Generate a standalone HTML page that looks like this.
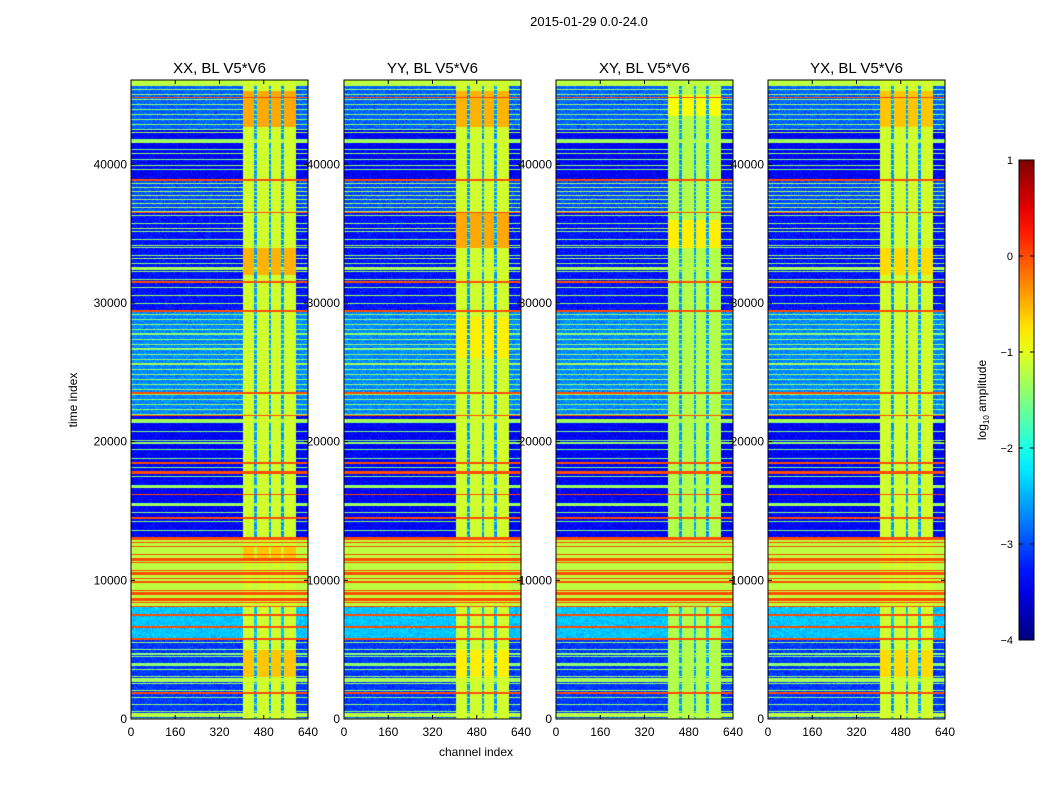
<!DOCTYPE html>
<html><head><meta charset="utf-8">
<style>
html,body{margin:0;padding:0;background:#fff;}
#root{position:relative;width:1050px;height:800px;font-family:"Liberation Sans",sans-serif;color:#000;overflow:hidden;}
canvas{position:absolute;}
svg{position:absolute;left:0;top:0;}
</style></head>
<body>
<div id="root">
<svg id="svg" width="1050" height="800"></svg>
</div>
<script>
// ---- data ----
const panelTitles = ["XX, BL V5*V6","YY, BL V5*V6","XY, BL V5*V6","YX, BL V5*V6"];
const xTicks = [0,160,320,480,640];
const yTicks = [0,10000,20000,30000,40000];
const cbTicks = [-4,-3,-2,-1,0,1];
// background bands [tStart, tEnd, log10 amplitude]
const bgBands = [[0,5690,-3.1],[5690,8070,-2.4],[8070,12900,-1.2],[12900,21900,-3.4],[21900,29330,-2.7],[29330,36540,-3.3],[36540,38850,-3.0],[38850,42450,-3.4],[42450,45620,-2.9],[45620,46080,-1.2]];
// periodic fine-line texture bands [tStart, tEnd, period, value]
const stripeBandStart = [0,12900,21900,29330,36540,38850,42450,8070];
const stripeBandEnd   = [5690,21900,29330,36540,38850,42450,45620,12900];
const stripeBandPeriod= [500,650,360,580,290,720,360,290];
const stripeBandVal   = [-1.4,-1.5,-1.4,-1.4,-1.3,-1.5,-1.4,0.0];
// horizontal lines [tCentre, thickness, value]
const lineTimes = [44830,38850,36540,31500,29400,23500,21900,18450,17800,16200,14500,13050,11460,10520,9870,9080,8580,7500,6630,5770,1870,
  42300,41650,40800,39900,35390,34160,33220,32500,30560,27800,26700,25600,24500,21550,19900,16720,15420,12200,11000,9500,4700,3900,2810,290];
const lineThick = [100,150,100,100,150,100,100,100,200,100,100,220,100,150,100,100,100,200,100,200,100,
  100,200,100,100,100,100,100,200,100,100,100,150,100,200,100,100,100,150,150,150,100,100,280,290];
const lineVals = [0,0,0,0,0,0,0,0,0,0,0,0,0,0,0,0,0,0,0,0,0,
  -1.3,-1.3,-1.4,-1.4,-1.3,-1.3,-1.3,-1.3,-1.3,-1.4,-1.4,-1.3,-1.4,-1.3,-1.4,-1.3,-1.3,-1.2,-1.2,-1.2,-1.4,-1.4,-1.3,-1.2];
// RFI channel region and dropout stripes
const rfiRange = [405,597];
const stripeChans = [[446,456],[498,508],[544,554]];
const rfiBase = [-1.1,-1.1,-1.25,-1.1];
// per-panel brighter RFI blocks [tStart,tEnd,value]
const rfiBlocks = [
  [[42700,45300,-0.45],[32000,34000,-0.5],[3000,5000,-0.6],[11500,12500,-0.6]],
  [[42700,45300,-0.5],[34000,36500,-0.45],[26000,29000,-0.8],[3000,5000,-0.8]],
  [[43500,45000,-0.9],[34000,36000,-0.8]],
  [[42700,45300,-0.6],[32000,34000,-0.7],[3000,5000,-0.7]]
];
const tMax = 46080, chMax = 640, vMin = -4, vMax = 1;

// ---- geometry ----
const panelX = [131,344,556,768], plotW = 177, plotTop = 80, plotBot = 719, plotH = plotBot - plotTop;
const xs = (px, c) => px + c / chMax * plotW;
const ys = t => plotBot - t / tMax * plotH;

function jet(v){
  let x = (v - vMin) / (vMax - vMin); x = Math.max(0, Math.min(1, x));
  const f = (a) => Math.max(0, Math.min(1, a));
  const r = f(Math.min(4*x - 1.5, -4*x + 4.5));
  const g = f(Math.min(4*x - 0.5, -4*x + 3.5));
  const b = f(Math.min(4*x + 0.5, -4*x + 2.5));
  return [r*255|0, g*255|0, b*255|0];
}
const tPerPx = tMax / plotH;
function rowValue(t){
  let v = -3.2;
  for (const b of bgBands) if (t >= b[0] && t < b[1]) v = b[2];
  for (let i=0;i<stripeBandStart.length;i++){
    if (t >= stripeBandStart[i] && t < stripeBandEnd[i]) {
      const ph = (t - stripeBandStart[i]) % stripeBandPeriod[i];
      if (ph < tPerPx) v = stripeBandVal[i];
    }
  }
  for (let i=0;i<lineTimes.length;i++) if (Math.abs(t - lineTimes[i]) <= Math.max(lineThick[i], tPerPx)/2) v = lineVals[i];
  return v;
}
const root = document.getElementById('root');
const svg = document.getElementById('svg');
const NS = "http://www.w3.org/2000/svg";
function mk(tag, attrs, parent){ const e = document.createElementNS(NS, tag); for (const k in attrs) e.setAttribute(k, attrs[k]); (parent||svg).appendChild(e); return e; }

let seed = 7; function rnd(){ seed = (seed*16807) % 2147483647; return seed/2147483647; }

panelX.forEach((px, p) => {
  const cv = document.createElement('canvas');
  cv.width = plotW; cv.height = plotH;
  cv.style.left = px + 'px'; cv.style.top = plotTop + 'px';
  
  
  root.insertBefore(cv, svg);
  const ctx = cv.getContext('2d');
  const img = ctx.createImageData(plotW, plotH);
  for (let y=0;y<plotH;y++){
    const t = (plotBot - (plotTop + y + 0.5)) / plotH * tMax;
    const rv = rowValue(t);
    let blk = null;
    for (const b of rfiBlocks[p]) if (t >= b[0] && t < b[1]) blk = b[2];
    for (let x=0;x<plotW;x++){
      const c = (x + 0.5) / plotW * chMax;
      let v = rv;
      if (c >= rfiRange[0] && c < rfiRange[1]) {
        let stripe = false;
        for (const s of stripeChans) if (c >= s[0] && c < s[1]) stripe = true;
        if (stripe) v = Math.max(rv, -2.6);
        else { v = Math.max(rv, rfiBase[p]); if (blk !== null && rv < -0.2) v = blk; }
      }
      if (v < -1.6) v += (rnd() - 0.5) * 0.45;
      const col = jet(v), i = (y*plotW + x)*4;
      img.data[i]=col[0]; img.data[i+1]=col[1]; img.data[i+2]=col[2]; img.data[i+3]=255;
    }
  }
  ctx.putImageData(img, 0, 0);

  const g = mk('g', {});
  
  
  mk('rect', {x:px, y:plotTop, width:plotW, height:plotH, fill:'none', stroke:'#000', 'stroke-width':1}, g);
  const tt = mk('text', {x:px+plotW/2, y:73, 'text-anchor':'middle', 'font-size':15}, g);
  tt.textContent = panelTitles[p];
  
  
  xTicks.forEach(v => {
    const x = xs(px, v);
    mk('line', {x1:x, x2:x, y1:plotBot, y2:plotBot-4, stroke:'#000'}, g);
    mk('line', {x1:x, x2:x, y1:plotTop, y2:plotTop+4, stroke:'#000'}, g);
    const l = mk('text', {x:x, y:736, 'text-anchor':'middle', 'font-size':12}, g);
    l.textContent = v;
    
    
  });
  yTicks.forEach(v => {
    const y = ys(v);
    mk('line', {x1:px, x2:px+4, y1:y, y2:y, stroke:'#000'}, g);
    mk('line', {x1:px+plotW, x2:px+plotW-4, y1:y, y2:y, stroke:'#000'}, g);
    const l = mk('text', {x:px-4, y:y+4, 'text-anchor':'end', 'font-size':12}, g);
    l.textContent = v;
    
    
  });
});

// titles / axis labels
let e = mk('text', {x:589, y:26, 'text-anchor':'middle', 'font-size':13});
e.textContent = "2015-01-29 0.0-24.0";


e = mk('text', {x:476, y:756, 'text-anchor':'middle', 'font-size':12});
e.textContent = "channel index";


e = mk('text', {x:0, y:0, 'text-anchor':'middle', 'font-size':12, transform:'translate(77,400) rotate(-90)'});
e.textContent = "time index";



// colorbar
const cbX = 1019, cbW = 15, cbTop = 160, cbBot = 640;
const cb = mk('g', {});


const defs = mk('defs', {}, cb);
const grad = mk('linearGradient', {id:'jetg', x1:0, y1:1, x2:0, y2:0}, defs);
for (let i=0;i<=20;i++){ const c = jet(vMin + i/20*(vMax-vMin)); mk('stop', {offset:(i/20), 'stop-color':`rgb(${c[0]},${c[1]},${c[2]})`}, grad); }
mk('rect', {x:cbX, y:cbTop, width:cbW, height:cbBot-cbTop, fill:'url(#jetg)', stroke:'#000'}, cb);
cbTicks.forEach(v => {
  const y = cbBot - (v - vMin)/(vMax - vMin)*(cbBot - cbTop);
  mk('line', {x1:cbX, x2:cbX+4, y1:y, y2:y, stroke:'#000'}, cb);
  mk('line', {x1:cbX+cbW, x2:cbX+cbW-4, y1:y, y2:y, stroke:'#000'}, cb);
  const l = mk('text', {x:1013, y:y+4, 'text-anchor':'end', 'font-size':11}, cb);
  l.textContent = (v < 0 ? '\u2212' + (-v) : v);
  
  
});
e = mk('text', {x:0, y:0, 'text-anchor':'middle', 'font-size':12, transform:'translate(986,400) rotate(-90)'}, cb);
e.innerHTML = 'log<tspan font-size="8" dy="3">10</tspan><tspan dy="-3"> amplitude</tspan>';


</script>
</body></html>
